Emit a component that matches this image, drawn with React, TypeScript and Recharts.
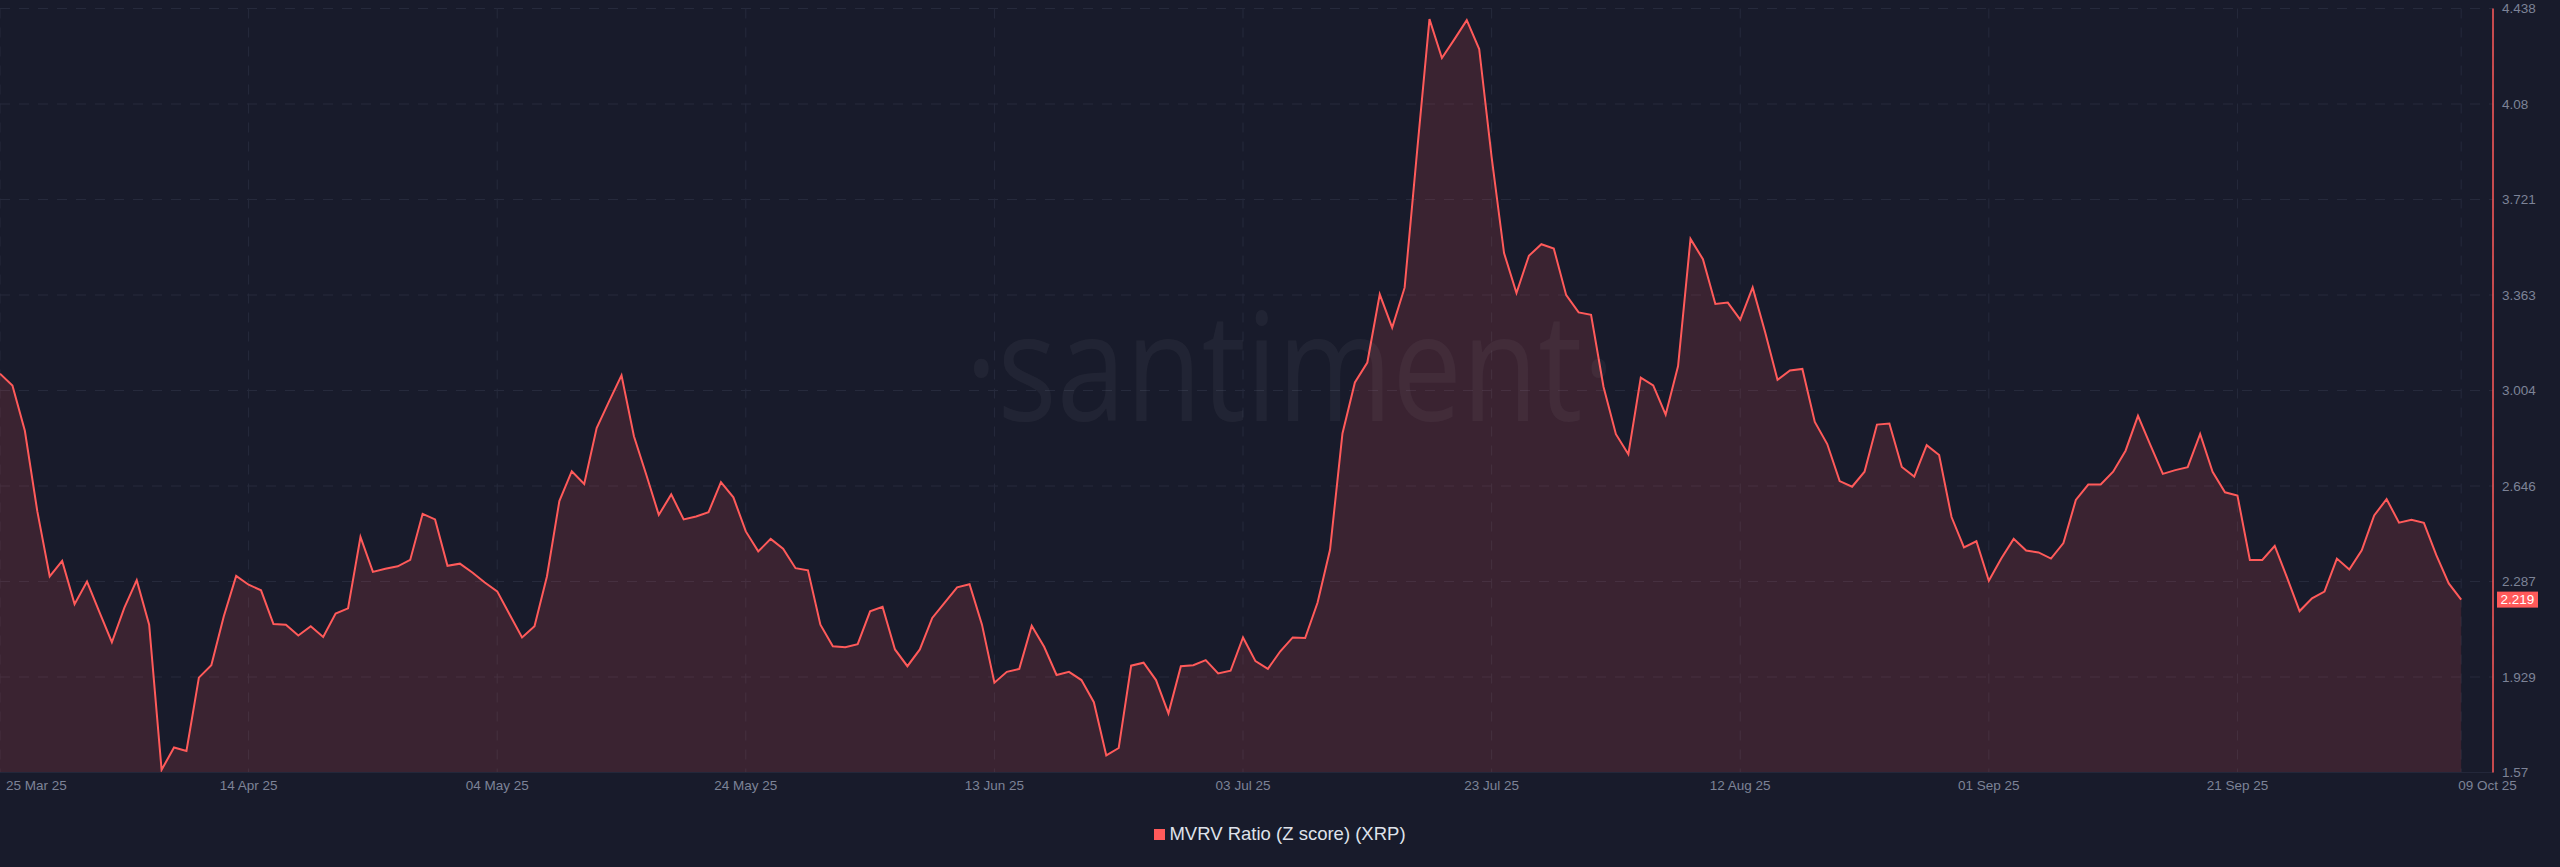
import { AreaChart, Area, XAxis, YAxis, CartesianGrid, ReferenceLine } from 'recharts';

// daily MVRV Z score for XRP, 25 Mar 25 .. 09 Oct 25 (day index = days since 25 Mar)
const mvrvZScore = [
  3.067, 3.023, 2.853, 2.551, 2.306, 2.364, 2.202, 2.287, 2.172, 2.059,
  2.188, 2.292, 2.125, 1.58, 1.664, 1.651, 1.926, 1.973, 2.156, 2.308,
  2.275, 2.254, 2.127, 2.125, 2.084, 2.119, 2.079, 2.167, 2.186, 2.454,
  2.323, 2.335, 2.344, 2.368, 2.541, 2.52, 2.346, 2.354, 2.321, 2.283,
  2.25, 2.163, 2.077, 2.119, 2.306, 2.589, 2.701, 2.653, 2.863, 2.963,
  3.061, 2.832, 2.687, 2.537, 2.614, 2.52, 2.531, 2.547, 2.66, 2.603,
  2.475, 2.4, 2.447, 2.41, 2.337, 2.329, 2.125, 2.044, 2.04, 2.052,
  2.175, 2.192, 2.032, 1.969, 2.032, 2.15, 2.208, 2.265, 2.277, 2.125,
  1.907, 1.948, 1.959, 2.121, 2.042, 1.936, 1.948, 1.917, 1.834, 1.634,
  1.662, 1.971, 1.982, 1.917, 1.792, 1.969, 1.973, 1.992, 1.942, 1.952,
  2.077, 1.988, 1.959, 2.025, 2.077, 2.075, 2.208, 2.406, 2.843, 3.034,
  3.109, 3.365, 3.24, 3.39, 3.9, 4.398, 4.252, 4.322, 4.394, 4.286,
  3.88, 3.52, 3.37, 3.51, 3.553, 3.537, 3.362, 3.297, 3.288, 3.018,
  2.84, 2.765, 3.052, 3.023, 2.913, 3.096, 3.573, 3.497, 3.329, 3.334,
  3.27, 3.391, 3.224, 3.044, 3.079, 3.085, 2.886, 2.803, 2.664, 2.643,
  2.699, 2.876, 2.88, 2.717, 2.681, 2.799, 2.762, 2.529, 2.415, 2.438,
  2.29, 2.373, 2.447, 2.403, 2.396, 2.373, 2.431, 2.593, 2.651, 2.651,
  2.699, 2.778, 2.909, 2.799, 2.691, 2.705, 2.716, 2.841, 2.699, 2.622,
  2.61, 2.368, 2.368, 2.421, 2.301, 2.176, 2.224, 2.249, 2.373, 2.332,
  2.404, 2.535, 2.596, 2.508, 2.519, 2.507, 2.386, 2.28, 2.219,
];

const xTickDays = [0, 20, 40, 60, 80, 100, 120, 140, 160, 180, 198];
const xTickLabels = [
  '25 Mar 25', '14 Apr 25', '04 May 25', '24 May 25', '13 Jun 25', '03 Jul 25',
  '23 Jul 25', '12 Aug 25', '01 Sep 25', '21 Sep 25', '09 Oct 25',
];

const yTickValues = [1.57, 1.9285, 2.287, 2.6455, 3.004, 3.3625, 3.721, 4.0795, 4.438];
const yTickLabels = ['1.57', '1.929', '2.287', '2.646', '3.004', '3.363', '3.721', '4.08', '4.438'];

const lastValue = 2.219;
const seriesName = 'MVRV Ratio (Z score) (XRP)';

const BG = '#181b2b';
const RED = '#ff5a5a';
const GRID = '#262a3c';
const MUTED = '#7d8397';
const FONT = '"Liberation Sans", Arial, sans-serif';

const chartData = mvrvZScore.map((value, day) => ({ day, value }));

function XTick({ x, y, payload }: any) {
  const i = xTickDays.indexOf(payload.value);
  const last = xTickDays.length - 1;
  const anchor = i === 0 || i === last ? 'start' : 'middle';
  const dx = i === 0 ? 6 : i === last ? -3 : 0;
  return (
    <text x={x + dx} y={y} fill={MUTED} fontSize={13.5} fontFamily={FONT} textAnchor={anchor} dominantBaseline="central">
      {xTickLabels[i]}
    </text>
  );
}

function YTick({ x, y, payload }: any) {
  const i = yTickValues.indexOf(payload.value);
  return (
    <text x={x} y={y} fill={MUTED} fontSize={13.5} fontFamily={FONT} textAnchor="start" dominantBaseline="central">
      {yTickLabels[i]}
    </text>
  );
}

function ValueBadge({ viewBox }: any) {
  if (!viewBox) return null;
  const bx = viewBox.x + viewBox.width + 4;
  const by = viewBox.y;
  return (
    <g>
      <rect x={bx} y={by - 8} width={41} height={16} fill={RED} />
      <text x={bx + 20.5} y={by} fill="#ffffff" fontSize={13.5} fontFamily={FONT} textAnchor="middle" dominantBaseline="central">
        {lastValue}
      </text>
    </g>
  );
}

export default function App() {
  return (
    <div style={{ position: 'fixed', left: 0, top: 0, width: 2560, height: 867, background: BG, overflow: 'hidden' }}>
      <AreaChart width={2560} height={867} data={chartData} margin={{ top: 8.5, right: 0, bottom: 0, left: 0 }}>
        <CartesianGrid stroke={GRID} strokeDasharray="10 9" />
        <XAxis
          dataKey="day"
          type="number"
          domain={[0, 200.56]}
          ticks={xTickDays}
          interval={0}
          height={94.5}
          tickSize={0}
          tickMargin={12.5}
          tickLine={false}
          axisLine={{ stroke: '#23273a' }}
          tick={<XTick />}
          allowDataOverflow
        />
        <YAxis
          orientation="right"
          width={67}
          domain={[1.57, 4.438]}
          ticks={yTickValues}
          interval={0}
          tickSize={0}
          tickMargin={9}
          tickLine={false}
          axisLine={{ stroke: RED, strokeWidth: 1.5 }}
          tick={<YTick />}
          allowDataOverflow
        />
        <Area
          type="linear"
          dataKey="value"
          stroke={RED}
          strokeWidth={2}
          fill={RED}
          fillOpacity={0.15}
          dot={false}
          activeDot={false}
          isAnimationActive={false}
        />
        <ReferenceLine y={lastValue} stroke="none" label={<ValueBadge />} />
      </AreaChart>

      <svg width={2560} height={867} style={{ position: 'absolute', left: 0, top: 0, pointerEvents: 'none' }}>
        <text
          x={1290}
          y={421}
          fontSize={150}
          fontFamily='"Open Sans", sans-serif'
          fill="#ffffff"
          fillOpacity={0.045}
          textAnchor="middle"
          textLength={650}
          lengthAdjust="spacingAndGlyphs"
        >
          ·santiment·
        </text>
      </svg>

      <div
        style={{
          position: 'absolute',
          left: 0,
          width: 2560,
          top: 823,
          height: 22,
          display: 'flex',
          alignItems: 'center',
          justifyContent: 'center',
          fontFamily: FONT,
          fontSize: 18.5,
          color: '#dfe2ea',
        }}
      >
        <span style={{ display: 'inline-block', width: 11, height: 11, background: RED, marginRight: 4 }} />
        {seriesName}
      </div>
    </div>
  );
}
